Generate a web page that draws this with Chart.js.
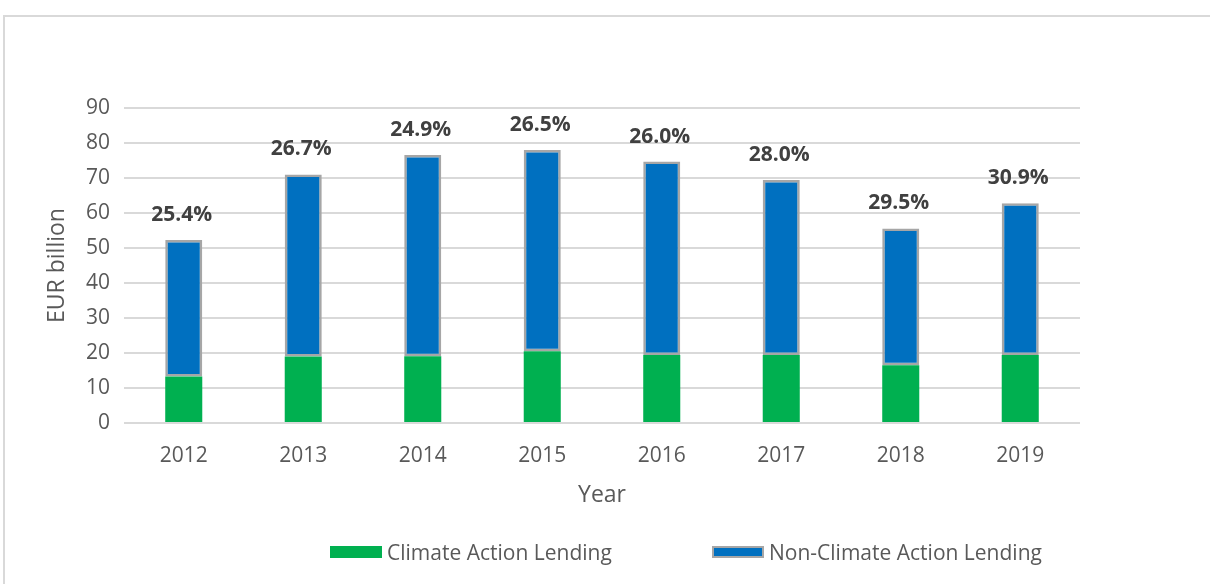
<!DOCTYPE html>
<html>
<head>
<meta charset="utf-8">
<script src="https://cdn.jsdelivr.net/npm/chart.js@4/dist/chart.umd.min.js"></script>
<style>
  html, body { margin: 0; padding: 0; background: #fff; }
  #wrap { position: relative; width: 1210px; height: 584px; overflow: hidden; }
  #frame { position: absolute; left: 3px; top: 15px; width: 1220px; height: 600px;
           border-left: 2px solid #d9d9d9; border-top: 2px solid #d9d9d9; }
  #chart { position: absolute; left: 0; top: 0; }
  #legend { position: absolute; left: 0; top: 539px; width: 1210px; height: 26px;
            font-family: 'Open Sans', sans-serif; font-size: 21px; color: #595959; }
  .item { position: absolute; top: 0; display: flex; align-items: center; height: 26px; }
  .box { width: 52px; height: 12px; margin-right: 5px; box-sizing: border-box; }
</style>
</head>
<body>
<div id="wrap">
  <div id="frame"></div>
  <canvas id="chart" width="1210" height="584"></canvas>
  <div id="legend"></div>
</div>
<script>
const years = ['2012','2013','2014','2015','2016','2017','2018','2019'];
const climateLending = [13.3, 19.0, 19.1, 20.5, 19.4, 19.4, 16.5, 19.4];
const nonClimateLending = [39.0, 52.0, 57.5, 57.5, 55.3, 50.0, 39.1, 43.4];
const shareLabels = ['25.4%','26.7%','24.9%','26.5%','26.0%','28.0%','29.5%','30.9%'];
const yTicks = [0,10,20,30,40,50,60,70,80,90];

const font = "'Open Sans', sans-serif";
const grey = '#595959';

// percent share above each stack
const shareLabelPlugin = {
  id: 'shareLabels',
  afterDatasetsDraw(chart){
    const {ctx, scales:{x, y}} = chart;
    ctx.save();
    ctx.font = `bold 21px ${font}`;
    ctx.fillStyle = '#404040';
    ctx.textAlign = 'center';
    ctx.textBaseline = 'middle';
    years.forEach((_, i)=>{
      const total = climateLending[i] + nonClimateLending[i];
      ctx.fillText(shareLabels[i], x.getPixelForValue(i) - 2, y.getPixelForValue(total) - 25);
    });
    ctx.restore();
  }
};

const chart = new Chart(document.getElementById('chart'), {
  type: 'bar',
  data: {
    labels: years,
    datasets: [{
      label: 'Climate Action Lending',
      data: climateLending,
      backgroundColor: '#00b050',
      borderWidth: 0,
      barPercentage: 0.31,
      categoryPercentage: 1
    },{
      label: 'Non-Climate Action Lending',
      data: nonClimateLending,
      backgroundColor: '#0070c0',
      borderColor: '#a6a6a6',
      borderWidth: 2.5,
      borderSkipped: false,
      barPercentage: 0.31,
      categoryPercentage: 1
    }]
  },
  options: {
    responsive: false,
    animation: false,
    layout: { padding: { top: 108, left: 0, right: 130, bottom: 64 } },
    plugins: { legend: { display: false }, tooltip: { enabled: false } },
    scales: {
      x: {
        stacked: true,
        grid: { display: false },
        border: { display: false },
        ticks: { color: grey, font: { family: font, size: 21 }, padding: 12 },
        title: { display: true, text: 'Year', color: grey, font: { family: font, size: 23 }, padding: { top: 4, bottom: 11 } },
        afterFit(scale){ scale.height = 97; }
      },
      y: {
        stacked: true,
        min: 0, max: 90,
        afterBuildTicks(scale){ scale.ticks = yTicks.map(v=>({value: v})); },
        grid: { color: '#d9d9d9', lineWidth: 2, drawTicks: false },
        border: { display: false },
        ticks: { color: grey, font: { family: font, size: 21 }, padding: 14 },
        title: { display: true, text: 'EUR billion', color: grey, font: { family: font, size: 23 }, padding: { top: 44 } },
        afterFit(scale){ scale.width = 124; }
      }
    }
  },
  plugins: [shareLabelPlugin]
});

// html legend from datasets
const legend = document.getElementById('legend');
const legendX = [330, 712];
chart.data.datasets.forEach((ds, i)=>{
  const item = document.createElement('div');
  item.className = 'item';
  item.style.left = legendX[i] + 'px';
  const box = document.createElement('span');
  box.className = 'box';
  box.style.background = ds.backgroundColor;
  if (ds.borderWidth) box.style.border = `2px solid ${ds.borderColor}`;
  item.appendChild(box);
  item.appendChild(document.createTextNode(ds.label));
  legend.appendChild(item);
});
</script>
</body>
</html>
